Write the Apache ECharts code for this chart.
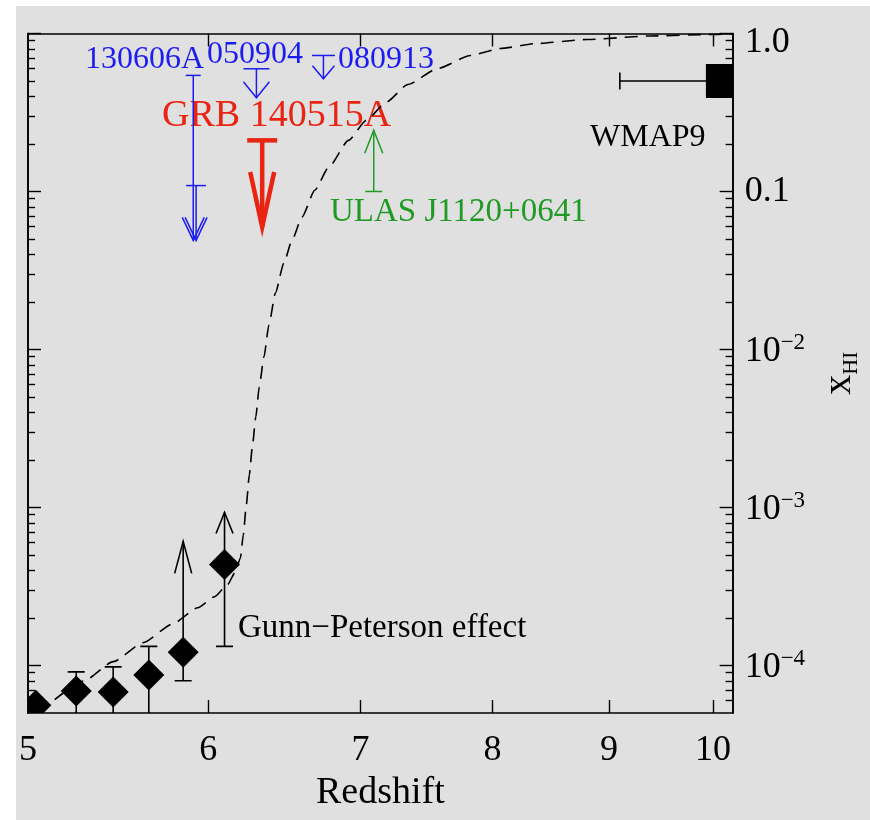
<!DOCTYPE html>
<html><head><meta charset="utf-8">
<script src="https://cdn.jsdelivr.net/npm/echarts@6/dist/echarts.min.js"></script>
<style>
html,body{margin:0;padding:0;background:#ffffff;}
#c{position:absolute;left:16px;top:6px;width:854px;height:814px;background:#e0e0e0;}
</style></head><body><div id="c"></div>
<script>
const FONT = '"Liberation Serif", "Times New Roman", serif';

// ---------- axis ticks / labels ----------
const xTickValues = [6, 7, 8, 9, 10];
const xLabelValues = [5, 6, 7, 8, 9, 10];
const xLabelText = ['5', '6', '7', '8', '9', '10'];
const yMajorTicks = [1e-4, 1e-3, 1e-2, 0.1, 1];
const yTickLabels = ['10^−4', '10^−3', '10^−2', '0.1', '1.0'];
const yMinorTicks = [6e-5, 7e-5, 8e-5, 9e-5,
  2e-4, 3e-4, 4e-4, 5e-4, 6e-4, 7e-4, 8e-4, 9e-4,
  2e-3, 3e-3, 4e-3, 5e-3, 6e-3, 7e-3, 8e-3, 9e-3,
  0.02, 0.03, 0.04, 0.05, 0.06, 0.07, 0.08, 0.09,
  0.2, 0.3, 0.4, 0.5, 0.6, 0.7, 0.8, 0.9];

// ---------- model curve (dashed) ----------
const curveZ = [5.137, 5.289, 5.451, 5.618, 5.790, 5.937, 6.039, 6.118, 6.168, 6.199, 6.217, 6.236, 6.255,
  6.274, 6.296, 6.318, 6.348, 6.380, 6.422, 6.477, 6.531, 6.597, 6.683, 6.778, 6.915, 7.040, 7.183, 7.344,
  7.568, 7.823, 8.063, 8.371, 8.801, 9.378, 9.959, 10.2];
const curveX = [6.08e-5, 7.96e-5, 1.057e-4, 1.394e-4, 1.837e-4, 2.319e-4, 2.722e-4, 3.241e-4, 3.917e-4,
  4.80e-4, 6.71e-4, 1.039e-3, 1.607e-3, 2.415e-3, 3.737e-3, 5.785e-3, 8.955e-3, 0.01426, 0.02273, 0.03516,
  0.04914, 0.06869, 0.1018, 0.1422, 0.2107, 0.2818, 0.3663, 0.4760, 0.6008, 0.7259, 0.8040, 0.8646,
  0.9165, 0.9643, 0.9856, 0.9957];

// ---------- Gunn-Peterson quasar points ----------
const fanZ = [5.04, 5.25, 5.45, 5.65, 5.85, 6.10];
const fanXHI = [5.6e-5, 6.9e-5, 6.8e-5, 8.7e-5, 1.21e-4, 4.35e-4];
const fanLow = [null, 3e-5, 3e-5, 3e-5, 8.0e-5, 1.32e-4];
const fanHigh = [null, 9.1e-5, 9.8e-5, 1.32e-4, 6.1e-4, 9.3e-4];
const fanHighIsLimit = [false, false, false, false, true, true];

// ---------- GRB / quasar limits: [z, limit value, arrow tip value] ----------
const grb130606A_a = [5.91, 0.543, 0.049];
const grb130606A_b = [5.927, 0.109, 0.049];
const grb050904 = [6.30, 0.598, 0.392];
const grb080913 = [6.742, 0.726, 0.517];
const grb140515A = [6.337, 0.2107, 0.0596];
const ulasJ1120 = [7.094, 0.1, 0.244];

// ---------- WMAP9 ----------
const wmapZ = 10.1, wmapZLow = 9.1, wmapX = 0.5;

const BLUE = '#1c1cf0', RED = '#ea2412', GREEN = '#1f9a25';

function arrowSeries(point, st) {
  return {
    type: 'custom', coordinateSystem: 'cartesian2d', xAxisIndex: 0, yAxisIndex: 0, clip: false, z: 5,
    data: [point],
    renderItem: function (params, api) {
      const z = api.value(0);
      const c = api.coord([z, api.value(1)]);
      const t = api.coord([z, api.value(2)]);
      const dir = t[1] > c[1] ? 1 : -1;
      const ls = { stroke: st.color, lineWidth: st.width, fill: null, lineJoin: 'miter' };
      return {
        type: 'group', children: [
          { type: 'line', shape: { x1: c[0] - st.cap / 2, y1: c[1], x2: c[0] + st.cap / 2, y2: c[1] }, style: ls },
          { type: 'line', shape: { x1: c[0], y1: c[1], x2: t[0], y2: t[1] }, style: ls },
          { type: 'polyline', shape: { points: [[t[0] - st.arm, t[1] - dir * st.head], [t[0], t[1]], [t[0] + st.arm, t[1] - dir * st.head]] }, style: ls }
        ]
      };
    }
  };
}

const fanHeadLen = [0, 0, 0, 0, 32, 21];

function yLabelFormatter(v) {
  const lv = Math.log10(v);
  for (let i = 0; i < yMajorTicks.length; i++) {
    if (Math.abs(lv - Math.log10(yMajorTicks[i])) < 1e-6) {
      const s = yTickLabels[i];
      if (s.indexOf('^') >= 0) {
        const p = s.split('^');
        return '{b|' + p[0] + '}{sup|' + p[1] + '}';
      }
      if (i === yMajorTicks.length - 1) return '{top|' + s + '}';
      return '{n|' + s + '}';
    }
  }
  return '';
}

const axisLineStyle = { color: '#000', width: 1.6 };
const labelRich = {
  b: { fontSize: 36, fontFamily: FONT, color: '#000', lineHeight: 36, padding: [4, 0, 0, 0] },
  sup: { fontSize: 23, fontFamily: FONT, color: '#000', lineHeight: 23, verticalAlign: 'top' },
  n: { fontSize: 36, fontFamily: FONT, color: '#000', lineHeight: 36 },
  top: { fontSize: 36, fontFamily: FONT, color: '#000', lineHeight: 36, padding: [19, 0, 0, 0] }
};

function yAxisDef(pos, ticks, len, withLabels) {
  const a = {
    type: 'log', logBase: 10, min: 5e-5, max: 1, position: pos,
    axisLine: { show: true, lineStyle: axisLineStyle },
    axisTick: { show: true, inside: true, length: len, customValues: ticks, lineStyle: { color: '#000', width: 1.4 } },
    axisLabel: { show: false },
    splitLine: { show: false }, minorTick: { show: false }, minorSplitLine: { show: false }
  };
  if (withLabels) {
    a.axisLabel = {
      show: true, customValues: yMajorTicks, margin: 12, formatter: yLabelFormatter,
      fontSize: 36, fontFamily: FONT, color: '#000', rich: labelRich
    };
    a.name = '{x|x}{s|HI}';
    a.nameLocation = 'middle';
    a.nameRotate = 90;
    a.nameGap = 84;
    a.nameTextStyle = {
      color: '#000', fontFamily: FONT,
      rich: {
        x: { fontSize: 40, fontFamily: FONT, color: '#000', lineHeight: 40, verticalAlign: 'top' },
        s: { fontSize: 22, fontFamily: FONT, color: '#000', lineHeight: 22, padding: [24, 0, 0, 0] }
      }
    };
  }
  return a;
}

const chart = echarts.init(document.getElementById('c'), null, { renderer: 'canvas' });

const option = {
  animation: false,
  backgroundColor: '#e0e0e0',
  grid: { left: 8, top: 27, width: 712, height: 680, containLabel: false, show: false },
  xAxis: [
    {
      type: 'log', logBase: 10, min: 5, max: 10.2, position: 'bottom',
      axisLine: { show: true, lineStyle: axisLineStyle },
      axisTick: { show: true, inside: true, length: 13, customValues: xTickValues, lineStyle: { color: '#000', width: 1.4 } },
      axisLabel: {
        show: true, customValues: xLabelValues, margin: 20, fontSize: 36, fontFamily: FONT, color: '#000',
        formatter: function (v) { const i = xLabelValues.findIndex(t => Math.abs(t - v) < 1e-6); return i >= 0 ? xLabelText[i] : ''; }
      },
      splitLine: { show: false }, minorTick: { show: false },
      name: 'Redshift', nameLocation: 'middle', nameGap: 59,
      nameTextStyle: { fontSize: 38, fontFamily: FONT, color: '#000' }
    },
    {
      type: 'log', logBase: 10, min: 5, max: 10.2, position: 'top',
      axisLine: { show: true, lineStyle: axisLineStyle },
      axisTick: { show: true, inside: true, length: 13, customValues: xTickValues, lineStyle: { color: '#000', width: 1.4 } },
      axisLabel: { show: false }, splitLine: { show: false }, minorTick: { show: false }
    }
  ],
  yAxis: [
    yAxisDef('right', yMajorTicks, 13, true),
    yAxisDef('right', yMinorTicks, 7, false),
    yAxisDef('left', yMajorTicks, 13, false),
    yAxisDef('left', yMinorTicks, 7, false)
  ],
  series: [
    {
      type: 'line', xAxisIndex: 0, yAxisIndex: 0, clip: true, showSymbol: false, symbol: 'none',
      smooth: 0.2, smoothMonotone: 'x',
      data: curveZ.map((z, i) => [z, curveX[i]]),
      lineStyle: { color: '#000', width: 1.6, type: [13, 8] }, z: 3
    },
    // Fan et al. error bars
    {
      type: 'custom', coordinateSystem: 'cartesian2d', xAxisIndex: 0, yAxisIndex: 0, clip: true, z: 4,
      data: fanZ.map((z, i) => [z, fanLow[i] == null ? 0 : fanLow[i], fanHigh[i] == null ? 0 : fanHigh[i], fanHighIsLimit[i] ? 1 : 0]),
      renderItem: function (params, api) {
        const i = params.dataIndex;
        if (fanLow[i] == null) return null;
        const z = api.value(0);
        const lo = api.coord([z, api.value(1)]);
        const hi = api.coord([z, api.value(2)]);
        const ls = { stroke: '#000', lineWidth: 1.6, fill: null };
        const ch = [
          { type: 'line', shape: { x1: lo[0], y1: lo[1], x2: hi[0], y2: hi[1] }, style: ls },
          { type: 'line', shape: { x1: lo[0] - 8.5, y1: lo[1], x2: lo[0] + 8.5, y2: lo[1] }, style: ls }
        ];
        if (api.value(3) === 1) {
          const h = fanHeadLen[i];
          ch.push({ type: 'polyline', shape: { points: [[hi[0] - 8.5, hi[1] + h], [hi[0], hi[1]], [hi[0] + 8.5, hi[1] + h]] }, style: ls });
        } else {
          ch.push({ type: 'line', shape: { x1: hi[0] - 8.5, y1: hi[1], x2: hi[0] + 8.5, y2: hi[1] }, style: ls });
        }
        return { type: 'group', children: ch };
      }
    },
    // Fan et al. diamonds
    {
      type: 'custom', coordinateSystem: 'cartesian2d', xAxisIndex: 0, yAxisIndex: 0, clip: true, z: 6,
      data: fanZ.map((z, i) => [z, fanXHI[i]]),
      renderItem: function (params, api) {
        const p = api.coord([api.value(0), api.value(1)]);
        const r = 15.5;
        return { type: 'polygon', shape: { points: [[p[0], p[1] - r], [p[0] + r, p[1]], [p[0], p[1] + r], [p[0] - r, p[1]]] }, style: { fill: '#000' } };
      }
    },
    // WMAP9
    {
      type: 'custom', coordinateSystem: 'cartesian2d', xAxisIndex: 0, yAxisIndex: 0, clip: true, z: 6,
      data: [[wmapZ, wmapX, wmapZLow]],
      renderItem: function (params, api) {
        const p = api.coord([api.value(0), api.value(1)]);
        const l = api.coord([api.value(2), api.value(1)]);
        const ls = { stroke: '#000', lineWidth: 1.6 };
        return {
          type: 'group', children: [
            { type: 'line', shape: { x1: l[0], y1: l[1], x2: p[0], y2: p[1] }, style: ls },
            { type: 'line', shape: { x1: l[0], y1: l[1] - 8.5, x2: l[0], y2: l[1] + 8.5 }, style: ls },
            { type: 'rect', shape: { x: p[0] - 17, y: p[1] - 17, width: 34, height: 34 }, style: { fill: '#000' } }
          ]
        };
      }
    },
    arrowSeries(grb130606A_a, { color: BLUE, width: 1.5, cap: 15, arm: 11, head: 23 }),
    arrowSeries(grb130606A_b, { color: BLUE, width: 1.5, cap: 20, arm: 11, head: 23 }),
    arrowSeries(grb050904, { color: BLUE, width: 1.5, cap: 26, arm: 13, head: 16 }),
    arrowSeries(grb080913, { color: BLUE, width: 1.5, cap: 23, arm: 11, head: 13 }),
    arrowSeries(grb140515A, { color: RED, width: 4.5, cap: 30, arm: 12, head: 55 }),
    arrowSeries(ulasJ1120, { color: GREEN, width: 1.5, cap: 17, arm: 9, head: 23 })
  ],
  graphic: [
    { type: 'text', x: 69, y: 54, style: { text: '130606A', fontSize: 32, fontFamily: FONT, fill: BLUE, align: 'left', verticalAlign: 'middle' } },
    { type: 'text', x: 191, y: 48.5, style: { text: '050904', fontSize: 32, fontFamily: FONT, fill: BLUE, align: 'left', verticalAlign: 'middle' } },
    { type: 'text', x: 322, y: 53.5, style: { text: '080913', fontSize: 32, fontFamily: FONT, fill: BLUE, align: 'left', verticalAlign: 'middle' } },
    { type: 'text', x: 146, y: 110, style: { text: 'GRB 140515A', fontSize: 38, fontFamily: FONT, fill: RED, align: 'left', verticalAlign: 'middle' } },
    { type: 'text', x: 314, y: 206, style: { text: 'ULAS J1120+0641', fontSize: 33, fontFamily: FONT, fill: GREEN, align: 'left', verticalAlign: 'middle' } },
    { type: 'text', x: 574, y: 132, style: { text: 'WMAP9', fontSize: 32, fontFamily: FONT, fill: '#000', align: 'left', verticalAlign: 'middle' } },
    { type: 'text', x: 222, y: 622, style: { text: 'Gunn−Peterson effect', fontSize: 33, fontFamily: FONT, fill: '#000', align: 'left', verticalAlign: 'middle' } }
  ]
};
chart.setOption(option);
</script></body></html>
